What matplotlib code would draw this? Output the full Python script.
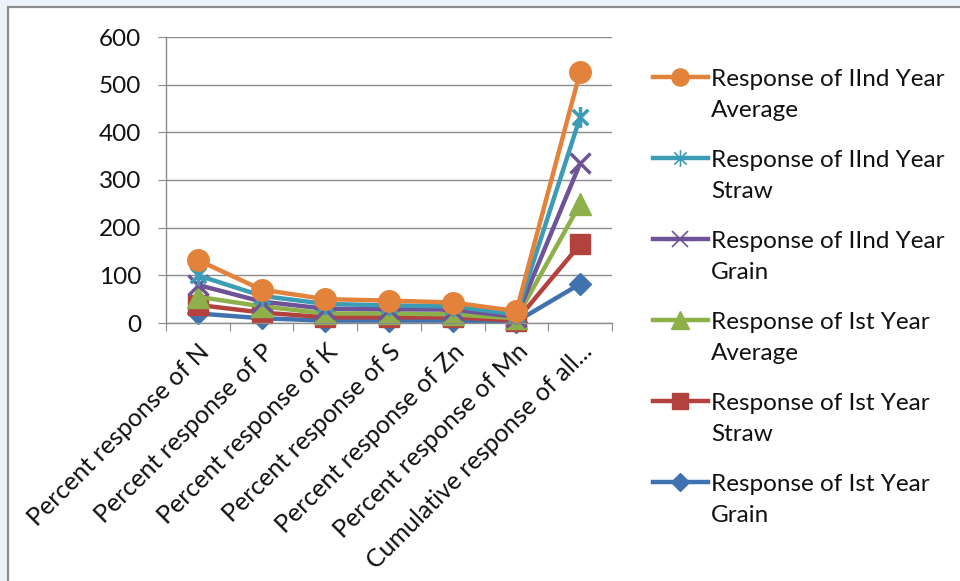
import matplotlib
matplotlib.use("Agg")
import matplotlib.pyplot as plt
from matplotlib.patches import Rectangle
from matplotlib.path import Path
from matplotlib.lines import Line2D

plt.rcParams['font.family'] = ['Lato', 'DejaVu Sans']

categories = [
    "Percent response of N",
    "Percent response of P",
    "Percent response of K",
    "Percent response of S",
    "Percent response of Zn",
    "Percent response of Mn",
    "Cumulative response of all...",
]

# series values, one list per series
ist_grain = [20, 10, 5, 5, 5, 3, 82]
ist_straw = [38, 22, 12, 12, 12, 5, 165]
ist_average = [55, 35, 20, 20, 18, 10, 250]
iind_grain = [80, 45, 30, 29, 28, 13, 335]
iind_straw = [100, 57, 40, 37, 35, 18, 432]
iind_average = [132, 70, 50, 47, 43, 25, 527]

labels = [
    "Response of IInd Year\nAverage",
    "Response of IInd Year\nStraw",
    "Response of IInd Year\nGrain",
    "Response of Ist Year\nAverage",
    "Response of Ist Year\nStraw",
    "Response of Ist Year\nGrain",
]

FS = 17.5

# asterisk marker: an x with a vertical bar through it
star = Path([(-1, -1), (1, 1), (-1, 1), (1, -1), (0, -1.35), (0, 1.35)],
            [Path.MOVETO, Path.LINETO, Path.MOVETO, Path.LINETO, Path.MOVETO, Path.LINETO])

# drawing order bottom -> top, with styles
series = [
    (ist_grain, "#3F72AF", "D", 11, labels[5]),
    (ist_straw, "#B3423F", "s", 14.5, labels[4]),
    (ist_average, "#8DB04A", "^", 16, labels[3]),
    (iind_grain, "#6E5496", "x", 15, labels[2]),
    (iind_straw, "#3C9CB6", star, 15, labels[1]),
    (iind_average, "#E3823A", "o", 15.5, labels[0]),
]

W, H = 960, 581
fig = plt.figure(figsize=(W / 100, H / 100), dpi=100, facecolor="#EDF3FA")

# white chart area with grey border
fig.patches.append(Rectangle((8 / W, -0.01), 1.0, 1 - 7 / H + 0.01, transform=fig.transFigure,
                             facecolor="white", edgecolor="#8C8C8C", linewidth=1.6, zorder=-5))

ax = fig.add_axes([166 / W, (H - 323) / H, 446 / W, 286 / H])
ax.set_facecolor("none")

x = list(range(len(categories)))
for vals, col, mk, ms, lab in series:
    thin = mk in ("x",) or mk is star
    ax.plot(x, vals, color=col, linewidth=3.2, marker=mk, markersize=ms,
            markerfacecolor=col, markeredgecolor=col,
            markeredgewidth=2.5 if thin else 1, solid_capstyle="round", clip_on=False)

ax.set_xlim(-0.5, len(categories) - 0.5)
ax.set_ylim(0, 600)
ax.set_yticks(range(0, 601, 100))
ax.grid(axis="y", color="#8C8C8C", linewidth=1)
ax.set_axisbelow(True)

ax.set_xticks([i - 0.5 for i in range(len(categories) + 1)])
ax.set_xticklabels([])
ax.set_xticks(x, minor=True)
ax.set_xticklabels(categories, minor=True, rotation=45, ha="right", va="top",
                   rotation_mode="anchor", fontsize=FS + 0.5, color="#111111")
ax.tick_params(axis="x", which="major", direction="out", length=6, color="#8C8C8C")
ax.tick_params(axis="x", which="minor", length=0, pad=12)
ax.tick_params(axis="y", direction="out", length=6, color="#8C8C8C", pad=12,
               labelsize=FS, labelcolor="#111111")

for s in ("top", "right"):
    ax.spines[s].set_visible(False)
for s in ("left", "bottom"):
    ax.spines[s].set_color("#8C8C8C")
    ax.spines[s].set_linewidth(1)

# legend drawn in pixel space on an overlay axes
lax = fig.add_axes([0, 0, 1, 1])
lax.set_xlim(0, W)
lax.set_ylim(H, 0)
lax.axis("off")
for i, (vals, col, mk, ms, lab) in enumerate(reversed(series)):
    y0 = 77 + i * 81
    thin = mk in ("x",) or mk is star
    lax.add_line(Line2D([653, 680, 708], [y0, y0, y0], color=col, linewidth=3.2,
                        marker=mk, markevery=[1], markersize=ms * 0.8,
                        markerfacecolor=col, markeredgecolor=col,
                        markeredgewidth=1.2 if thin else 1))
    first, second = lab.split("\n")
    lax.text(711, y0 + 9, first, fontsize=FS, color="#111111", va="baseline", ha="left")
    lax.text(711, y0 + 40, second, fontsize=FS, color="#111111", va="baseline", ha="left")

fig.savefig("out.png", dpi=100, facecolor=fig.get_facecolor())
